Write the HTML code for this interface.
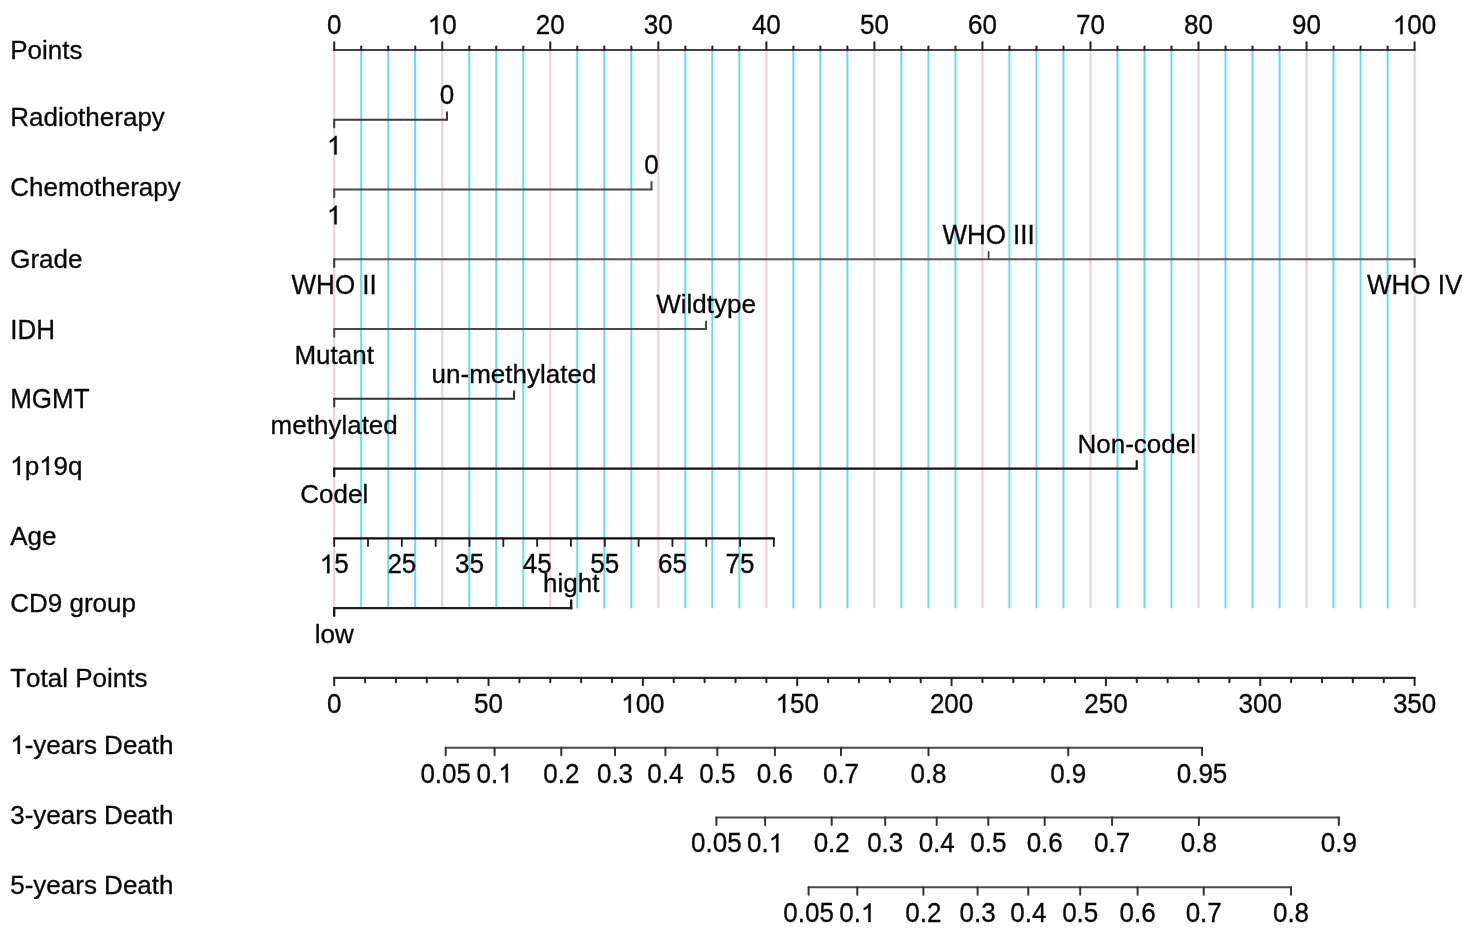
<!DOCTYPE html>
<html><head><meta charset="utf-8"><title>Nomogram</title>
<style>
html,body{margin:0;padding:0;background:#fff;width:1477px;height:931px;overflow:hidden}
svg{display:block;will-change:transform}
text{font-family:"Liberation Sans",sans-serif;fill:#080808;stroke:#080808;stroke-width:0.3px;font-kerning:none;font-feature-settings:"kern" 0}
path.one{stroke:#080808;stroke-width:0.3px;vector-effect:non-scaling-stroke}
</style></head><body>
<svg width="1477" height="931" viewBox="0 0 1477 931">
<rect width="1477" height="931" fill="#fff"/>
<line x1="334.20" y1="51.00" x2="334.20" y2="608.16" stroke="#ead0d9" stroke-width="2" stroke-linecap="butt"/>
<line x1="361.21" y1="51.00" x2="361.21" y2="608.16" stroke="#66dedf" stroke-width="2" stroke-linecap="butt"/>
<line x1="388.22" y1="51.00" x2="388.22" y2="608.16" stroke="#66dedf" stroke-width="2" stroke-linecap="butt"/>
<line x1="415.23" y1="51.00" x2="415.23" y2="608.16" stroke="#66dedf" stroke-width="2" stroke-linecap="butt"/>
<line x1="442.24" y1="51.00" x2="442.24" y2="608.16" stroke="#ead0d9" stroke-width="2" stroke-linecap="butt"/>
<line x1="469.25" y1="51.00" x2="469.25" y2="608.16" stroke="#66dedf" stroke-width="2" stroke-linecap="butt"/>
<line x1="496.26" y1="51.00" x2="496.26" y2="608.16" stroke="#66dedf" stroke-width="2" stroke-linecap="butt"/>
<line x1="523.27" y1="51.00" x2="523.27" y2="608.16" stroke="#66dedf" stroke-width="2" stroke-linecap="butt"/>
<line x1="550.28" y1="51.00" x2="550.28" y2="608.16" stroke="#ead0d9" stroke-width="2" stroke-linecap="butt"/>
<line x1="577.29" y1="51.00" x2="577.29" y2="608.16" stroke="#66dedf" stroke-width="2" stroke-linecap="butt"/>
<line x1="604.30" y1="51.00" x2="604.30" y2="608.16" stroke="#66dedf" stroke-width="2" stroke-linecap="butt"/>
<line x1="631.31" y1="51.00" x2="631.31" y2="608.16" stroke="#66dedf" stroke-width="2" stroke-linecap="butt"/>
<line x1="658.32" y1="51.00" x2="658.32" y2="608.16" stroke="#ead0d9" stroke-width="2" stroke-linecap="butt"/>
<line x1="685.33" y1="51.00" x2="685.33" y2="608.16" stroke="#66dedf" stroke-width="2" stroke-linecap="butt"/>
<line x1="712.34" y1="51.00" x2="712.34" y2="608.16" stroke="#66dedf" stroke-width="2" stroke-linecap="butt"/>
<line x1="739.35" y1="51.00" x2="739.35" y2="608.16" stroke="#66dedf" stroke-width="2" stroke-linecap="butt"/>
<line x1="766.36" y1="51.00" x2="766.36" y2="608.16" stroke="#ead0d9" stroke-width="2" stroke-linecap="butt"/>
<line x1="793.37" y1="51.00" x2="793.37" y2="608.16" stroke="#66dedf" stroke-width="2" stroke-linecap="butt"/>
<line x1="820.38" y1="51.00" x2="820.38" y2="608.16" stroke="#66dedf" stroke-width="2" stroke-linecap="butt"/>
<line x1="847.39" y1="51.00" x2="847.39" y2="608.16" stroke="#66dedf" stroke-width="2" stroke-linecap="butt"/>
<line x1="874.40" y1="51.00" x2="874.40" y2="608.16" stroke="#ead0d9" stroke-width="2" stroke-linecap="butt"/>
<line x1="901.41" y1="51.00" x2="901.41" y2="608.16" stroke="#66dedf" stroke-width="2" stroke-linecap="butt"/>
<line x1="928.42" y1="51.00" x2="928.42" y2="608.16" stroke="#66dedf" stroke-width="2" stroke-linecap="butt"/>
<line x1="955.43" y1="51.00" x2="955.43" y2="608.16" stroke="#66dedf" stroke-width="2" stroke-linecap="butt"/>
<line x1="982.44" y1="51.00" x2="982.44" y2="608.16" stroke="#ead0d9" stroke-width="2" stroke-linecap="butt"/>
<line x1="1009.45" y1="51.00" x2="1009.45" y2="608.16" stroke="#66dedf" stroke-width="2" stroke-linecap="butt"/>
<line x1="1036.46" y1="51.00" x2="1036.46" y2="608.16" stroke="#66dedf" stroke-width="2" stroke-linecap="butt"/>
<line x1="1063.47" y1="51.00" x2="1063.47" y2="608.16" stroke="#66dedf" stroke-width="2" stroke-linecap="butt"/>
<line x1="1090.48" y1="51.00" x2="1090.48" y2="608.16" stroke="#ead0d9" stroke-width="2" stroke-linecap="butt"/>
<line x1="1117.49" y1="51.00" x2="1117.49" y2="608.16" stroke="#66dedf" stroke-width="2" stroke-linecap="butt"/>
<line x1="1144.50" y1="51.00" x2="1144.50" y2="608.16" stroke="#66dedf" stroke-width="2" stroke-linecap="butt"/>
<line x1="1171.51" y1="51.00" x2="1171.51" y2="608.16" stroke="#66dedf" stroke-width="2" stroke-linecap="butt"/>
<line x1="1198.52" y1="51.00" x2="1198.52" y2="608.16" stroke="#ead0d9" stroke-width="2" stroke-linecap="butt"/>
<line x1="1225.53" y1="51.00" x2="1225.53" y2="608.16" stroke="#66dedf" stroke-width="2" stroke-linecap="butt"/>
<line x1="1252.54" y1="51.00" x2="1252.54" y2="608.16" stroke="#66dedf" stroke-width="2" stroke-linecap="butt"/>
<line x1="1279.55" y1="51.00" x2="1279.55" y2="608.16" stroke="#66dedf" stroke-width="2" stroke-linecap="butt"/>
<line x1="1306.56" y1="51.00" x2="1306.56" y2="608.16" stroke="#ead0d9" stroke-width="2" stroke-linecap="butt"/>
<line x1="1333.57" y1="51.00" x2="1333.57" y2="608.16" stroke="#66dedf" stroke-width="2" stroke-linecap="butt"/>
<line x1="1360.58" y1="51.00" x2="1360.58" y2="608.16" stroke="#66dedf" stroke-width="2" stroke-linecap="butt"/>
<line x1="1387.59" y1="51.00" x2="1387.59" y2="608.16" stroke="#66dedf" stroke-width="2" stroke-linecap="butt"/>
<line x1="1414.60" y1="51.00" x2="1414.60" y2="608.16" stroke="#ead0d9" stroke-width="2" stroke-linecap="butt"/>
<text x="10.20" y="59.00" font-size="26">Points</text>
<text x="10.20" y="126.00" font-size="26">Radiotherapy</text>
<text x="10.20" y="196.00" font-size="26">Chemotherapy</text>
<text x="10.20" y="268.00" font-size="26">Grade</text>
<text transform="translate(10.20 339.00) scale(1 1.04)" font-size="26">IDH</text>
<text transform="translate(10.20 408.00) scale(1 1.04)" font-size="26">MGMT</text>
<text x="10.20" y="475.00" font-size="26"> p 9q</text>
<path class="one" transform="translate(10.20 475.00) scale(0.01270 -0.01270)" d="M763 0L583 0L583 1147Q518 1085 412 1023Q306 961 221 930L221 1104Q372 1175 485 1276Q598 1377 645 1472L763 1472Z" fill="#080808"/>
<path class="one" transform="translate(39.12 475.00) scale(0.01270 -0.01270)" d="M763 0L583 0L583 1147Q518 1085 412 1023Q306 961 221 930L221 1104Q372 1175 485 1276Q598 1377 645 1472L763 1472Z" fill="#080808"/>
<text x="10.20" y="545.00" font-size="26">Age</text>
<text x="10.20" y="612.00" font-size="26">CD9 group</text>
<text x="10.20" y="687.00" font-size="26">Total Points</text>
<text x="10.20" y="754.00" font-size="26"> -years Death</text>
<path class="one" transform="translate(10.20 754.00) scale(0.01270 -0.01270)" d="M763 0L583 0L583 1147Q518 1085 412 1023Q306 961 221 930L221 1104Q372 1175 485 1276Q598 1377 645 1472L763 1472Z" fill="#080808"/>
<text x="10.20" y="824.00" font-size="26">3-years Death</text>
<text x="10.20" y="894.00" font-size="26">5-years Death</text>
<line x1="334.20" y1="50.00" x2="1414.60" y2="50.00" stroke="#444" stroke-width="2" stroke-linecap="round"/>
<line x1="334.20" y1="50.00" x2="334.20" y2="42.20" stroke="#222" stroke-width="2" stroke-linecap="round"/>
<line x1="361.21" y1="50.00" x2="361.21" y2="46.60" stroke="#222" stroke-width="2" stroke-linecap="round"/>
<line x1="388.22" y1="50.00" x2="388.22" y2="46.60" stroke="#222" stroke-width="2" stroke-linecap="round"/>
<line x1="415.23" y1="50.00" x2="415.23" y2="46.60" stroke="#222" stroke-width="2" stroke-linecap="round"/>
<line x1="442.24" y1="50.00" x2="442.24" y2="42.20" stroke="#222" stroke-width="2" stroke-linecap="round"/>
<line x1="469.25" y1="50.00" x2="469.25" y2="46.60" stroke="#222" stroke-width="2" stroke-linecap="round"/>
<line x1="496.26" y1="50.00" x2="496.26" y2="46.60" stroke="#222" stroke-width="2" stroke-linecap="round"/>
<line x1="523.27" y1="50.00" x2="523.27" y2="46.60" stroke="#222" stroke-width="2" stroke-linecap="round"/>
<line x1="550.28" y1="50.00" x2="550.28" y2="42.20" stroke="#222" stroke-width="2" stroke-linecap="round"/>
<line x1="577.29" y1="50.00" x2="577.29" y2="46.60" stroke="#222" stroke-width="2" stroke-linecap="round"/>
<line x1="604.30" y1="50.00" x2="604.30" y2="46.60" stroke="#222" stroke-width="2" stroke-linecap="round"/>
<line x1="631.31" y1="50.00" x2="631.31" y2="46.60" stroke="#222" stroke-width="2" stroke-linecap="round"/>
<line x1="658.32" y1="50.00" x2="658.32" y2="42.20" stroke="#222" stroke-width="2" stroke-linecap="round"/>
<line x1="685.33" y1="50.00" x2="685.33" y2="46.60" stroke="#222" stroke-width="2" stroke-linecap="round"/>
<line x1="712.34" y1="50.00" x2="712.34" y2="46.60" stroke="#222" stroke-width="2" stroke-linecap="round"/>
<line x1="739.35" y1="50.00" x2="739.35" y2="46.60" stroke="#222" stroke-width="2" stroke-linecap="round"/>
<line x1="766.36" y1="50.00" x2="766.36" y2="42.20" stroke="#222" stroke-width="2" stroke-linecap="round"/>
<line x1="793.37" y1="50.00" x2="793.37" y2="46.60" stroke="#222" stroke-width="2" stroke-linecap="round"/>
<line x1="820.38" y1="50.00" x2="820.38" y2="46.60" stroke="#222" stroke-width="2" stroke-linecap="round"/>
<line x1="847.39" y1="50.00" x2="847.39" y2="46.60" stroke="#222" stroke-width="2" stroke-linecap="round"/>
<line x1="874.40" y1="50.00" x2="874.40" y2="42.20" stroke="#222" stroke-width="2" stroke-linecap="round"/>
<line x1="901.41" y1="50.00" x2="901.41" y2="46.60" stroke="#222" stroke-width="2" stroke-linecap="round"/>
<line x1="928.42" y1="50.00" x2="928.42" y2="46.60" stroke="#222" stroke-width="2" stroke-linecap="round"/>
<line x1="955.43" y1="50.00" x2="955.43" y2="46.60" stroke="#222" stroke-width="2" stroke-linecap="round"/>
<line x1="982.44" y1="50.00" x2="982.44" y2="42.20" stroke="#222" stroke-width="2" stroke-linecap="round"/>
<line x1="1009.45" y1="50.00" x2="1009.45" y2="46.60" stroke="#222" stroke-width="2" stroke-linecap="round"/>
<line x1="1036.46" y1="50.00" x2="1036.46" y2="46.60" stroke="#222" stroke-width="2" stroke-linecap="round"/>
<line x1="1063.47" y1="50.00" x2="1063.47" y2="46.60" stroke="#222" stroke-width="2" stroke-linecap="round"/>
<line x1="1090.48" y1="50.00" x2="1090.48" y2="42.20" stroke="#222" stroke-width="2" stroke-linecap="round"/>
<line x1="1117.49" y1="50.00" x2="1117.49" y2="46.60" stroke="#222" stroke-width="2" stroke-linecap="round"/>
<line x1="1144.50" y1="50.00" x2="1144.50" y2="46.60" stroke="#222" stroke-width="2" stroke-linecap="round"/>
<line x1="1171.51" y1="50.00" x2="1171.51" y2="46.60" stroke="#222" stroke-width="2" stroke-linecap="round"/>
<line x1="1198.52" y1="50.00" x2="1198.52" y2="42.20" stroke="#222" stroke-width="2" stroke-linecap="round"/>
<line x1="1225.53" y1="50.00" x2="1225.53" y2="46.60" stroke="#222" stroke-width="2" stroke-linecap="round"/>
<line x1="1252.54" y1="50.00" x2="1252.54" y2="46.60" stroke="#222" stroke-width="2" stroke-linecap="round"/>
<line x1="1279.55" y1="50.00" x2="1279.55" y2="46.60" stroke="#222" stroke-width="2" stroke-linecap="round"/>
<line x1="1306.56" y1="50.00" x2="1306.56" y2="42.20" stroke="#222" stroke-width="2" stroke-linecap="round"/>
<line x1="1333.57" y1="50.00" x2="1333.57" y2="46.60" stroke="#222" stroke-width="2" stroke-linecap="round"/>
<line x1="1360.58" y1="50.00" x2="1360.58" y2="46.60" stroke="#222" stroke-width="2" stroke-linecap="round"/>
<line x1="1387.59" y1="50.00" x2="1387.59" y2="46.60" stroke="#222" stroke-width="2" stroke-linecap="round"/>
<line x1="1414.60" y1="50.00" x2="1414.60" y2="42.20" stroke="#222" stroke-width="2" stroke-linecap="round"/>
<text transform="translate(326.97 34.20) scale(1 1.04)" font-size="26">0</text>
<text transform="translate(427.78 34.20) scale(1 1.04)" font-size="26"> 0</text>
<path class="one" transform="translate(427.78 34.20) scale(0.01270 -0.01270)" d="M763 0L583 0L583 1147Q518 1085 412 1023Q306 961 221 930L221 1104Q372 1175 485 1276Q598 1377 645 1472L763 1472Z" fill="#080808"/>
<text transform="translate(535.82 34.20) scale(1 1.04)" font-size="26">20</text>
<text transform="translate(643.86 34.20) scale(1 1.04)" font-size="26">30</text>
<text transform="translate(751.90 34.20) scale(1 1.04)" font-size="26">40</text>
<text transform="translate(859.94 34.20) scale(1 1.04)" font-size="26">50</text>
<text transform="translate(967.98 34.20) scale(1 1.04)" font-size="26">60</text>
<text transform="translate(1076.02 34.20) scale(1 1.04)" font-size="26">70</text>
<text transform="translate(1184.06 34.20) scale(1 1.04)" font-size="26">80</text>
<text transform="translate(1292.10 34.20) scale(1 1.04)" font-size="26">90</text>
<text transform="translate(1392.91 34.20) scale(1 1.04)" font-size="26"> 00</text>
<path class="one" transform="translate(1392.91 34.20) scale(0.01270 -0.01270)" d="M763 0L583 0L583 1147Q518 1085 412 1023Q306 961 221 930L221 1104Q372 1175 485 1276Q598 1377 645 1472L763 1472Z" fill="#080808"/>
<line x1="334.20" y1="119.77" x2="447.00" y2="119.77" stroke="#3c3c3c" stroke-width="2" stroke-linecap="round"/>
<line x1="334.20" y1="119.77" x2="334.20" y2="127.37" stroke="#3c3c3c" stroke-width="2" stroke-linecap="round"/>
<line x1="447.00" y1="119.77" x2="447.00" y2="112.17" stroke="#3c3c3c" stroke-width="2" stroke-linecap="round"/>
<path class="one" transform="translate(326.97 154.57) scale(0.01270 -0.01270)" d="M763 0L583 0L583 1147Q518 1085 412 1023Q306 961 221 930L221 1104Q372 1175 485 1276Q598 1377 645 1472L763 1472Z" fill="#080808"/>
<text transform="translate(439.77 103.97) scale(1 1.04)" font-size="26">0</text>
<line x1="334.20" y1="189.54" x2="651.50" y2="189.54" stroke="#484848" stroke-width="2" stroke-linecap="round"/>
<line x1="334.20" y1="189.54" x2="334.20" y2="197.14" stroke="#484848" stroke-width="2" stroke-linecap="round"/>
<line x1="651.50" y1="189.54" x2="651.50" y2="181.94" stroke="#484848" stroke-width="2" stroke-linecap="round"/>
<path class="one" transform="translate(326.97 224.34) scale(0.01270 -0.01270)" d="M763 0L583 0L583 1147Q518 1085 412 1023Q306 961 221 930L221 1104Q372 1175 485 1276Q598 1377 645 1472L763 1472Z" fill="#080808"/>
<text transform="translate(644.27 173.74) scale(1 1.04)" font-size="26">0</text>
<line x1="334.20" y1="259.31" x2="1414.60" y2="259.31" stroke="#555" stroke-width="2" stroke-linecap="round"/>
<line x1="334.20" y1="259.31" x2="334.20" y2="266.91" stroke="#333" stroke-width="2" stroke-linecap="round"/>
<line x1="1414.60" y1="259.31" x2="1414.60" y2="266.91" stroke="#333" stroke-width="2" stroke-linecap="round"/>
<line x1="988.60" y1="259.31" x2="988.60" y2="251.71" stroke="#333" stroke-width="1.6" stroke-linecap="round"/>
<text transform="translate(291.59 294.11) scale(1 1.04)" font-size="26">WHO II</text>
<text transform="translate(942.38 243.51) scale(1 1.04)" font-size="26">WHO III</text>
<text transform="translate(1366.94 294.11) scale(1 1.04)" font-size="26">WHO IV</text>
<line x1="334.20" y1="329.08" x2="706.00" y2="329.08" stroke="#484848" stroke-width="2" stroke-linecap="round"/>
<line x1="334.20" y1="329.08" x2="334.20" y2="336.68" stroke="#484848" stroke-width="2" stroke-linecap="round"/>
<line x1="706.00" y1="329.08" x2="706.00" y2="321.48" stroke="#484848" stroke-width="2" stroke-linecap="round"/>
<text x="294.46" y="363.88" font-size="26">Mutant</text>
<text x="656.15" y="313.28" font-size="26">Wildtype</text>
<line x1="334.20" y1="398.85" x2="514.00" y2="398.85" stroke="#333" stroke-width="2" stroke-linecap="round"/>
<line x1="334.20" y1="398.85" x2="334.20" y2="406.45" stroke="#333" stroke-width="2" stroke-linecap="round"/>
<line x1="514.00" y1="398.85" x2="514.00" y2="391.25" stroke="#333" stroke-width="2" stroke-linecap="round"/>
<text x="270.61" y="433.65" font-size="26">methylated</text>
<text x="431.62" y="383.05" font-size="26">un-methylated</text>
<line x1="334.20" y1="468.62" x2="1136.70" y2="468.62" stroke="#111" stroke-width="2.2" stroke-linecap="round"/>
<line x1="334.20" y1="468.62" x2="334.20" y2="476.22" stroke="#111" stroke-width="2.2" stroke-linecap="round"/>
<line x1="1136.70" y1="468.62" x2="1136.70" y2="461.02" stroke="#111" stroke-width="2.2" stroke-linecap="round"/>
<text x="300.23" y="503.42" font-size="26">Codel</text>
<text x="1077.44" y="452.82" font-size="26">Non-codel</text>
<line x1="334.20" y1="538.39" x2="773.90" y2="538.39" stroke="#0c0c0c" stroke-width="2.1" stroke-linecap="round"/>
<line x1="334.20" y1="538.39" x2="334.20" y2="545.99" stroke="#1a1a1a" stroke-width="1.8" stroke-linecap="round"/>
<line x1="368.02" y1="538.39" x2="368.02" y2="545.99" stroke="#1a1a1a" stroke-width="1.8" stroke-linecap="round"/>
<line x1="401.85" y1="538.39" x2="401.85" y2="545.99" stroke="#1a1a1a" stroke-width="1.8" stroke-linecap="round"/>
<line x1="435.67" y1="538.39" x2="435.67" y2="545.99" stroke="#1a1a1a" stroke-width="1.8" stroke-linecap="round"/>
<line x1="469.49" y1="538.39" x2="469.49" y2="545.99" stroke="#1a1a1a" stroke-width="1.8" stroke-linecap="round"/>
<line x1="503.32" y1="538.39" x2="503.32" y2="545.99" stroke="#1a1a1a" stroke-width="1.8" stroke-linecap="round"/>
<line x1="537.14" y1="538.39" x2="537.14" y2="545.99" stroke="#1a1a1a" stroke-width="1.8" stroke-linecap="round"/>
<line x1="570.96" y1="538.39" x2="570.96" y2="545.99" stroke="#1a1a1a" stroke-width="1.8" stroke-linecap="round"/>
<line x1="604.78" y1="538.39" x2="604.78" y2="545.99" stroke="#1a1a1a" stroke-width="1.8" stroke-linecap="round"/>
<line x1="638.61" y1="538.39" x2="638.61" y2="545.99" stroke="#1a1a1a" stroke-width="1.8" stroke-linecap="round"/>
<line x1="672.43" y1="538.39" x2="672.43" y2="545.99" stroke="#1a1a1a" stroke-width="1.8" stroke-linecap="round"/>
<line x1="706.25" y1="538.39" x2="706.25" y2="545.99" stroke="#1a1a1a" stroke-width="1.8" stroke-linecap="round"/>
<line x1="740.08" y1="538.39" x2="740.08" y2="545.99" stroke="#1a1a1a" stroke-width="1.8" stroke-linecap="round"/>
<line x1="773.90" y1="538.39" x2="773.90" y2="545.99" stroke="#1a1a1a" stroke-width="1.8" stroke-linecap="round"/>
<text transform="translate(319.74 573.19) scale(1 1.04)" font-size="26"> 5</text>
<path class="one" transform="translate(319.74 573.19) scale(0.01270 -0.01270)" d="M763 0L583 0L583 1147Q518 1085 412 1023Q306 961 221 930L221 1104Q372 1175 485 1276Q598 1377 645 1472L763 1472Z" fill="#080808"/>
<text transform="translate(387.39 573.19) scale(1 1.04)" font-size="26">25</text>
<text transform="translate(455.03 573.19) scale(1 1.04)" font-size="26">35</text>
<text transform="translate(522.68 573.19) scale(1 1.04)" font-size="26">45</text>
<text transform="translate(590.32 573.19) scale(1 1.04)" font-size="26">55</text>
<text transform="translate(657.97 573.19) scale(1 1.04)" font-size="26">65</text>
<text transform="translate(725.62 573.19) scale(1 1.04)" font-size="26">75</text>
<line x1="334.20" y1="608.16" x2="571.20" y2="608.16" stroke="#1c1c1c" stroke-width="2.4" stroke-linecap="round"/>
<line x1="334.20" y1="608.16" x2="334.20" y2="615.76" stroke="#1c1c1c" stroke-width="2.4" stroke-linecap="round"/>
<line x1="571.20" y1="608.16" x2="571.20" y2="600.56" stroke="#1c1c1c" stroke-width="2.4" stroke-linecap="round"/>
<text x="314.69" y="642.96" font-size="26">low</text>
<text x="543.01" y="592.36" font-size="26">hight</text>
<line x1="334.20" y1="677.93" x2="1414.60" y2="677.93" stroke="#2a2a2a" stroke-width="2.2" stroke-linecap="round"/>
<line x1="334.20" y1="677.93" x2="334.20" y2="685.33" stroke="#222" stroke-width="2" stroke-linecap="round"/>
<line x1="365.07" y1="677.93" x2="365.07" y2="682.13" stroke="#222" stroke-width="2" stroke-linecap="round"/>
<line x1="395.94" y1="677.93" x2="395.94" y2="682.13" stroke="#222" stroke-width="2" stroke-linecap="round"/>
<line x1="426.81" y1="677.93" x2="426.81" y2="682.13" stroke="#222" stroke-width="2" stroke-linecap="round"/>
<line x1="457.67" y1="677.93" x2="457.67" y2="682.13" stroke="#222" stroke-width="2" stroke-linecap="round"/>
<line x1="488.54" y1="677.93" x2="488.54" y2="685.33" stroke="#222" stroke-width="2" stroke-linecap="round"/>
<line x1="519.41" y1="677.93" x2="519.41" y2="682.13" stroke="#222" stroke-width="2" stroke-linecap="round"/>
<line x1="550.28" y1="677.93" x2="550.28" y2="682.13" stroke="#222" stroke-width="2" stroke-linecap="round"/>
<line x1="581.15" y1="677.93" x2="581.15" y2="682.13" stroke="#222" stroke-width="2" stroke-linecap="round"/>
<line x1="612.02" y1="677.93" x2="612.02" y2="682.13" stroke="#222" stroke-width="2" stroke-linecap="round"/>
<line x1="642.89" y1="677.93" x2="642.89" y2="685.33" stroke="#222" stroke-width="2" stroke-linecap="round"/>
<line x1="673.75" y1="677.93" x2="673.75" y2="682.13" stroke="#222" stroke-width="2" stroke-linecap="round"/>
<line x1="704.62" y1="677.93" x2="704.62" y2="682.13" stroke="#222" stroke-width="2" stroke-linecap="round"/>
<line x1="735.49" y1="677.93" x2="735.49" y2="682.13" stroke="#222" stroke-width="2" stroke-linecap="round"/>
<line x1="766.36" y1="677.93" x2="766.36" y2="682.13" stroke="#222" stroke-width="2" stroke-linecap="round"/>
<line x1="797.23" y1="677.93" x2="797.23" y2="685.33" stroke="#222" stroke-width="2" stroke-linecap="round"/>
<line x1="828.10" y1="677.93" x2="828.10" y2="682.13" stroke="#222" stroke-width="2" stroke-linecap="round"/>
<line x1="858.97" y1="677.93" x2="858.97" y2="682.13" stroke="#222" stroke-width="2" stroke-linecap="round"/>
<line x1="889.83" y1="677.93" x2="889.83" y2="682.13" stroke="#222" stroke-width="2" stroke-linecap="round"/>
<line x1="920.70" y1="677.93" x2="920.70" y2="682.13" stroke="#222" stroke-width="2" stroke-linecap="round"/>
<line x1="951.57" y1="677.93" x2="951.57" y2="685.33" stroke="#222" stroke-width="2" stroke-linecap="round"/>
<line x1="982.44" y1="677.93" x2="982.44" y2="682.13" stroke="#222" stroke-width="2" stroke-linecap="round"/>
<line x1="1013.31" y1="677.93" x2="1013.31" y2="682.13" stroke="#222" stroke-width="2" stroke-linecap="round"/>
<line x1="1044.18" y1="677.93" x2="1044.18" y2="682.13" stroke="#222" stroke-width="2" stroke-linecap="round"/>
<line x1="1075.05" y1="677.93" x2="1075.05" y2="682.13" stroke="#222" stroke-width="2" stroke-linecap="round"/>
<line x1="1105.91" y1="677.93" x2="1105.91" y2="685.33" stroke="#222" stroke-width="2" stroke-linecap="round"/>
<line x1="1136.78" y1="677.93" x2="1136.78" y2="682.13" stroke="#222" stroke-width="2" stroke-linecap="round"/>
<line x1="1167.65" y1="677.93" x2="1167.65" y2="682.13" stroke="#222" stroke-width="2" stroke-linecap="round"/>
<line x1="1198.52" y1="677.93" x2="1198.52" y2="682.13" stroke="#222" stroke-width="2" stroke-linecap="round"/>
<line x1="1229.39" y1="677.93" x2="1229.39" y2="682.13" stroke="#222" stroke-width="2" stroke-linecap="round"/>
<line x1="1260.26" y1="677.93" x2="1260.26" y2="685.33" stroke="#222" stroke-width="2" stroke-linecap="round"/>
<line x1="1291.13" y1="677.93" x2="1291.13" y2="682.13" stroke="#222" stroke-width="2" stroke-linecap="round"/>
<line x1="1321.99" y1="677.93" x2="1321.99" y2="682.13" stroke="#222" stroke-width="2" stroke-linecap="round"/>
<line x1="1352.86" y1="677.93" x2="1352.86" y2="682.13" stroke="#222" stroke-width="2" stroke-linecap="round"/>
<line x1="1383.73" y1="677.93" x2="1383.73" y2="682.13" stroke="#222" stroke-width="2" stroke-linecap="round"/>
<line x1="1414.60" y1="677.93" x2="1414.60" y2="685.33" stroke="#222" stroke-width="2" stroke-linecap="round"/>
<text transform="translate(326.97 712.73) scale(1 1.04)" font-size="26">0</text>
<text transform="translate(474.08 712.73) scale(1 1.04)" font-size="26">50</text>
<text transform="translate(621.20 712.73) scale(1 1.04)" font-size="26"> 00</text>
<path class="one" transform="translate(621.20 712.73) scale(0.01270 -0.01270)" d="M763 0L583 0L583 1147Q518 1085 412 1023Q306 961 221 930L221 1104Q372 1175 485 1276Q598 1377 645 1472L763 1472Z" fill="#080808"/>
<text transform="translate(775.54 712.73) scale(1 1.04)" font-size="26"> 50</text>
<path class="one" transform="translate(775.54 712.73) scale(0.01270 -0.01270)" d="M763 0L583 0L583 1147Q518 1085 412 1023Q306 961 221 930L221 1104Q372 1175 485 1276Q598 1377 645 1472L763 1472Z" fill="#080808"/>
<text transform="translate(929.88 712.73) scale(1 1.04)" font-size="26">200</text>
<text transform="translate(1084.22 712.73) scale(1 1.04)" font-size="26">250</text>
<text transform="translate(1238.57 712.73) scale(1 1.04)" font-size="26">300</text>
<text transform="translate(1392.91 712.73) scale(1 1.04)" font-size="26">350</text>
<line x1="445.70" y1="747.70" x2="1202.00" y2="747.70" stroke="#4a4a4a" stroke-width="2" stroke-linecap="round"/>
<line x1="445.70" y1="747.70" x2="445.70" y2="755.30" stroke="#333" stroke-width="2" stroke-linecap="round"/>
<text transform="translate(420.40 782.50) scale(1 1.04)" font-size="26">0.05</text>
<line x1="494.60" y1="747.70" x2="494.60" y2="755.30" stroke="#333" stroke-width="2" stroke-linecap="round"/>
<text transform="translate(476.53 782.50) scale(1 1.04)" font-size="26">0. </text>
<path class="one" transform="translate(498.21 782.50) scale(0.01270 -0.01270)" d="M763 0L583 0L583 1147Q518 1085 412 1023Q306 961 221 930L221 1104Q372 1175 485 1276Q598 1377 645 1472L763 1472Z" fill="#080808"/>
<line x1="561.30" y1="747.70" x2="561.30" y2="755.30" stroke="#333" stroke-width="2" stroke-linecap="round"/>
<text transform="translate(543.23 782.50) scale(1 1.04)" font-size="26">0.2</text>
<line x1="615.00" y1="747.70" x2="615.00" y2="755.30" stroke="#333" stroke-width="2" stroke-linecap="round"/>
<text transform="translate(596.93 782.50) scale(1 1.04)" font-size="26">0.3</text>
<line x1="665.40" y1="747.70" x2="665.40" y2="755.30" stroke="#333" stroke-width="2" stroke-linecap="round"/>
<text transform="translate(647.33 782.50) scale(1 1.04)" font-size="26">0.4</text>
<line x1="717.30" y1="747.70" x2="717.30" y2="755.30" stroke="#333" stroke-width="2" stroke-linecap="round"/>
<text transform="translate(699.23 782.50) scale(1 1.04)" font-size="26">0.5</text>
<line x1="774.90" y1="747.70" x2="774.90" y2="755.30" stroke="#333" stroke-width="2" stroke-linecap="round"/>
<text transform="translate(756.83 782.50) scale(1 1.04)" font-size="26">0.6</text>
<line x1="841.00" y1="747.70" x2="841.00" y2="755.30" stroke="#333" stroke-width="2" stroke-linecap="round"/>
<text transform="translate(822.93 782.50) scale(1 1.04)" font-size="26">0.7</text>
<line x1="928.50" y1="747.70" x2="928.50" y2="755.30" stroke="#333" stroke-width="2" stroke-linecap="round"/>
<text transform="translate(910.43 782.50) scale(1 1.04)" font-size="26">0.8</text>
<line x1="1068.20" y1="747.70" x2="1068.20" y2="755.30" stroke="#333" stroke-width="2" stroke-linecap="round"/>
<text transform="translate(1050.13 782.50) scale(1 1.04)" font-size="26">0.9</text>
<line x1="1202.00" y1="747.70" x2="1202.00" y2="755.30" stroke="#333" stroke-width="2" stroke-linecap="round"/>
<text transform="translate(1176.70 782.50) scale(1 1.04)" font-size="26">0.95</text>
<line x1="716.40" y1="817.47" x2="1338.80" y2="817.47" stroke="#4a4a4a" stroke-width="2" stroke-linecap="round"/>
<line x1="716.40" y1="817.47" x2="716.40" y2="825.07" stroke="#333" stroke-width="2" stroke-linecap="round"/>
<text transform="translate(691.10 852.27) scale(1 1.04)" font-size="26">0.05</text>
<line x1="765.10" y1="817.47" x2="765.10" y2="825.07" stroke="#333" stroke-width="2" stroke-linecap="round"/>
<text transform="translate(747.03 852.27) scale(1 1.04)" font-size="26">0. </text>
<path class="one" transform="translate(768.71 852.27) scale(0.01270 -0.01270)" d="M763 0L583 0L583 1147Q518 1085 412 1023Q306 961 221 930L221 1104Q372 1175 485 1276Q598 1377 645 1472L763 1472Z" fill="#080808"/>
<line x1="831.70" y1="817.47" x2="831.70" y2="825.07" stroke="#333" stroke-width="2" stroke-linecap="round"/>
<text transform="translate(813.63 852.27) scale(1 1.04)" font-size="26">0.2</text>
<line x1="885.20" y1="817.47" x2="885.20" y2="825.07" stroke="#333" stroke-width="2" stroke-linecap="round"/>
<text transform="translate(867.13 852.27) scale(1 1.04)" font-size="26">0.3</text>
<line x1="936.70" y1="817.47" x2="936.70" y2="825.07" stroke="#333" stroke-width="2" stroke-linecap="round"/>
<text transform="translate(918.63 852.27) scale(1 1.04)" font-size="26">0.4</text>
<line x1="988.30" y1="817.47" x2="988.30" y2="825.07" stroke="#333" stroke-width="2" stroke-linecap="round"/>
<text transform="translate(970.23 852.27) scale(1 1.04)" font-size="26">0.5</text>
<line x1="1044.70" y1="817.47" x2="1044.70" y2="825.07" stroke="#333" stroke-width="2" stroke-linecap="round"/>
<text transform="translate(1026.63 852.27) scale(1 1.04)" font-size="26">0.6</text>
<line x1="1112.10" y1="817.47" x2="1112.10" y2="825.07" stroke="#333" stroke-width="2" stroke-linecap="round"/>
<text transform="translate(1094.03 852.27) scale(1 1.04)" font-size="26">0.7</text>
<line x1="1198.90" y1="817.47" x2="1198.90" y2="825.07" stroke="#333" stroke-width="2" stroke-linecap="round"/>
<text transform="translate(1180.83 852.27) scale(1 1.04)" font-size="26">0.8</text>
<line x1="1338.80" y1="817.47" x2="1338.80" y2="825.07" stroke="#333" stroke-width="2" stroke-linecap="round"/>
<text transform="translate(1320.73 852.27) scale(1 1.04)" font-size="26">0.9</text>
<line x1="808.60" y1="887.24" x2="1291.00" y2="887.24" stroke="#4a4a4a" stroke-width="2" stroke-linecap="round"/>
<line x1="808.60" y1="887.24" x2="808.60" y2="894.84" stroke="#333" stroke-width="2" stroke-linecap="round"/>
<text transform="translate(783.30 922.04) scale(1 1.04)" font-size="26">0.05</text>
<line x1="857.30" y1="887.24" x2="857.30" y2="894.84" stroke="#333" stroke-width="2" stroke-linecap="round"/>
<text transform="translate(839.23 922.04) scale(1 1.04)" font-size="26">0. </text>
<path class="one" transform="translate(860.91 922.04) scale(0.01270 -0.01270)" d="M763 0L583 0L583 1147Q518 1085 412 1023Q306 961 221 930L221 1104Q372 1175 485 1276Q598 1377 645 1472L763 1472Z" fill="#080808"/>
<line x1="923.40" y1="887.24" x2="923.40" y2="894.84" stroke="#333" stroke-width="2" stroke-linecap="round"/>
<text transform="translate(905.33 922.04) scale(1 1.04)" font-size="26">0.2</text>
<line x1="977.60" y1="887.24" x2="977.60" y2="894.84" stroke="#333" stroke-width="2" stroke-linecap="round"/>
<text transform="translate(959.53 922.04) scale(1 1.04)" font-size="26">0.3</text>
<line x1="1028.30" y1="887.24" x2="1028.30" y2="894.84" stroke="#333" stroke-width="2" stroke-linecap="round"/>
<text transform="translate(1010.23 922.04) scale(1 1.04)" font-size="26">0.4</text>
<line x1="1080.20" y1="887.24" x2="1080.20" y2="894.84" stroke="#333" stroke-width="2" stroke-linecap="round"/>
<text transform="translate(1062.13 922.04) scale(1 1.04)" font-size="26">0.5</text>
<line x1="1137.60" y1="887.24" x2="1137.60" y2="894.84" stroke="#333" stroke-width="2" stroke-linecap="round"/>
<text transform="translate(1119.53 922.04) scale(1 1.04)" font-size="26">0.6</text>
<line x1="1203.70" y1="887.24" x2="1203.70" y2="894.84" stroke="#333" stroke-width="2" stroke-linecap="round"/>
<text transform="translate(1185.63 922.04) scale(1 1.04)" font-size="26">0.7</text>
<line x1="1291.00" y1="887.24" x2="1291.00" y2="894.84" stroke="#333" stroke-width="2" stroke-linecap="round"/>
<text transform="translate(1272.93 922.04) scale(1 1.04)" font-size="26">0.8</text>
</svg>
</body></html>
